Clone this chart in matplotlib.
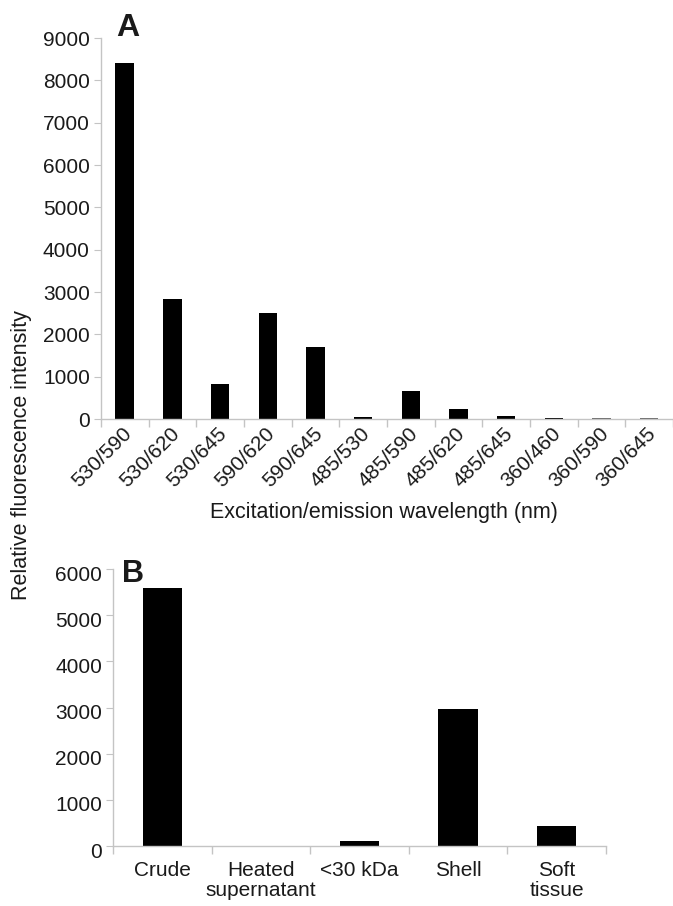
import numpy as np
import matplotlib
matplotlib.use("Agg")
import matplotlib.pyplot as plt
import matplotlib.transforms as mtransforms

plt.rcParams['font.family'] = ['Liberation Sans', 'DejaVu Sans']

## panel A data
wavelengths = ["530/590", "530/620", "530/645", "590/620", "590/645", "485/530",
               "485/590", "485/620", "485/645", "360/460", "360/590", "360/645"]
intensity_a = [8400, 2830, 830, 2500, 1700, 45, 660, 245, 70, 35, 20, 20]

## panel B data
fractions = ["Crude", "Heated\nsupernatant", "<30 kDa", "Shell", "Soft\ntissue"]
intensity_b = [5600, 0, 100, 2960, 440]

spine_col = "#c4c4c4"
txt_col = "#1a1a1a"
fs = 15

fig = plt.figure(figsize=(6.73, 9.06), dpi=100)
axA = fig.add_axes([0.150, 0.5375, 0.85, 0.4205])
axB = fig.add_axes([0.168, 0.0662, 0.7325, 0.3057])


def style(ax, n):
    for s in ["top", "right"]:
        ax.spines[s].set_visible(False)
    for s in ["left", "bottom"]:
        ax.spines[s].set_color(spine_col)
        ax.spines[s].set_linewidth(1.0)
    ax.set_xlim(-0.5, n - 0.5)
    ax.set_xticks(np.arange(n))
    ax.set_xticks(np.arange(n + 1) - 0.5, minor=True)
    ax.tick_params(axis="x", which="major", length=0, labelsize=fs, colors=txt_col)
    ax.tick_params(axis="x", which="minor", length=6, color=spine_col, width=1.0)
    ax.tick_params(axis="y", length=5, color=spine_col, labelsize=fs,
                   labelcolor=txt_col, pad=3)


# A
xa = np.arange(len(wavelengths))
colsA = ["black"] * 10 + ["#666666", "#666666"]
axA.bar(xa, intensity_a, width=0.39, color=colsA)
style(axA, len(wavelengths))
axA.set_ylim(0, 9000)
axA.set_yticks(np.arange(0, 9001, 1000))
axA.set_xticklabels(wavelengths, rotation=45, ha="right", va="center",
                    rotation_mode="anchor")
offset = mtransforms.ScaledTranslation(4 / 100, -7 / 100, fig.dpi_scale_trans)
for lab in axA.get_xticklabels():
    lab.set_transform(lab.get_transform() + offset)
fig.text(383.5 / 673, 1 - 518 / 906, "Excitation/emission wavelength (nm)",
         ha="center", va="baseline", fontsize=15.5, color=txt_col)

# B
xb = np.arange(len(fractions))
axB.bar(xb, intensity_b, width=0.4, color="black")
style(axB, len(fractions))
axB.set_ylim(0, 6000)
axB.set_yticks(np.arange(0, 6001, 1000))
axB.set_xticklabels(fractions, linespacing=1.05)
axB.tick_params(axis="x", which="major", pad=11)
offB = mtransforms.ScaledTranslation(0, -4 / 100, fig.dpi_scale_trans)
for lab in axB.get_yticklabels():
    lab.set_transform(lab.get_transform() + offB)

fig.text(21.5 / 673, 1 - 455 / 906, "Relative fluorescence intensity", rotation=90,
         va="center", ha="center", fontsize=15.5, color=txt_col)
fig.text(116 / 673, 1 - 36 / 906, "A", fontsize=23, fontweight="bold",
         color=txt_col, va="baseline")
fig.text(122 / 673, 1 - 582 / 906, "B", fontsize=22, fontweight="bold",
         color=txt_col, va="baseline")

fig.savefig("out.png", dpi=100)
